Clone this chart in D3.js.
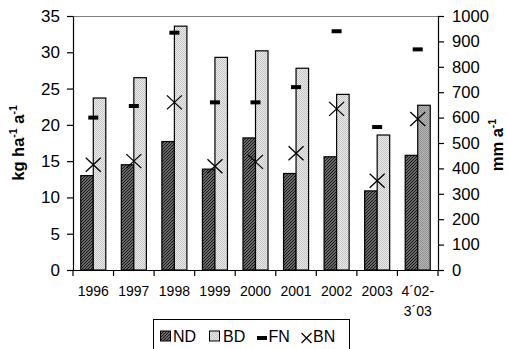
<!DOCTYPE html>
<html><head><meta charset="utf-8">
<script src="https://cdn.jsdelivr.net/npm/d3@7"></script>
<style>
html,body{margin:0;padding:0;background:#fff;}
svg{display:block;font-family:"Liberation Sans",Arial,sans-serif;}
</style></head>
<body>
<svg id="chart" width="508" height="349"></svg>
<script>
const categories = ["1996","1997","1998","1999","2000","2001","2002","2003","4´02-|3´03"];
const ND = [13.0,14.5,17.7,13.9,18.2,13.3,15.6,10.9,15.8];
const BD = [23.7,26.5,33.6,29.3,30.2,27.8,24.2,18.6,22.7];
const FN = [21.0,22.6,32.7,23.1,23.1,25.2,32.9,19.7,30.4];
const BN = [14.5,15.0,23.1,14.3,14.9,16.1,22.2,12.3,20.8];
const leftTicks = [0,5,10,15,20,25,30,35];
const rightTicks = [0,100,200,300,400,500,600,700,800,900,1000];

const svg = d3.select("#chart");
const L = 73, R = 438, T = 16, B = 270;

const defs = svg.append("defs");
// ND hatch
const pND = defs.append("pattern").attr("id","pND").attr("patternUnits","userSpaceOnUse")
  .attr("width",3).attr("height",3);
pND.append("rect").attr("width",3).attr("height",3).attr("fill","#8c8c8c");
pND.append("path").attr("d","M-1,1 L1,-1 M0,3 L3,0 M2,4 L4,2").attr("stroke","#111").attr("stroke-width",1.1);
// BD dots
const pBD = defs.append("pattern").attr("id","pBD").attr("patternUnits","userSpaceOnUse")
  .attr("width",2).attr("height",2);
pBD.append("rect").attr("width",2).attr("height",2).attr("fill","#ececec");
pBD.append("rect").attr("width",1).attr("height",1).attr("fill","#c4c4c4");
pBD.append("rect").attr("x",1).attr("y",1).attr("width",1).attr("height",1).attr("fill","#c4c4c4");
// darker BD for last
const pBD2 = defs.append("pattern").attr("id","pBD2").attr("patternUnits","userSpaceOnUse")
  .attr("width",2).attr("height",2);
pBD2.append("rect").attr("width",2).attr("height",2).attr("fill","#b4b4b4");
pBD2.append("rect").attr("width",1).attr("height",1).attr("fill","#949494");
pBD2.append("rect").attr("x",1).attr("y",1).attr("width",1).attr("height",1).attr("fill","#949494");

const x = d3.scaleBand().domain(categories).range([L,R]).padding(0);
const xs = d3.scaleBand().domain(["ND","BD"]).range([0,x.bandwidth()]).paddingInner(0).paddingOuter(0.62);
const y = d3.scaleLinear().domain([0,35]).range([B,T]);
const yR = d3.scaleLinear().domain([0,1000]).range([B,T]);

// top frame line
svg.append("line").attr("x1",L).attr("x2",R).attr("y1",T+0.5).attr("y2",T+0.5)
  .attr("stroke","#808080").attr("stroke-width",1);

// bars
const g = svg.append("g");
categories.forEach((c,i)=>{
  g.append("rect").attr("x",x(c)+xs("ND")).attr("y",y(ND[i]))
    .attr("width",xs.bandwidth()).attr("height",B-y(ND[i]))
    .attr("fill","url(#pND)").attr("stroke","#000").attr("stroke-width",1.2);
  g.append("rect").attr("x",x(c)+xs("BD")).attr("y",y(BD[i]))
    .attr("width",xs.bandwidth()).attr("height",B-y(BD[i]))
    .attr("fill", i===categories.length-1 ? "url(#pBD2)" : "url(#pBD)")
    .attr("stroke","#000").attr("stroke-width",1.2);
});

// FN markers
categories.forEach((c,i)=>{
  const cx = x(c)+x.bandwidth()/2;
  g.append("rect").attr("x",cx-5).attr("y",y(FN[i])-2).attr("width",10).attr("height",4).attr("fill","#000");
});
// BN markers
categories.forEach((c,i)=>{
  const cx = x(c)+x.bandwidth()/2, cy = y(BN[i]);
  g.append("path").attr("d",`M${cx-7.5},${cy-7} L${cx+7.5},${cy+7} M${cx-7.5},${cy+7} L${cx+7.5},${cy-7}`)
    .attr("stroke","#000").attr("stroke-width",1.3).attr("fill","none");
});

const fam = "Liberation Sans, Arial, sans-serif";
// left axis
const ax = svg.append("g").attr("transform",`translate(${L},0)`)
  .call(d3.axisLeft(y).tickValues(leftTicks).tickSize(6).tickSizeOuter(0).tickPadding(7).tickFormat(d3.format("d")));
ax.selectAll("text").attr("font-size",17).attr("fill","#000").attr("font-family",fam);
ax.selectAll("line,path").attr("stroke","#000").attr("stroke-width",1.2);

// right axis
const axR = svg.append("g").attr("transform",`translate(${R},0)`)
  .call(d3.axisRight(yR).tickValues(rightTicks).tickSize(6).tickSizeOuter(0).tickPadding(8).tickFormat(d3.format("d")));
axR.selectAll("text").attr("font-size",16.6).attr("fill","#000").attr("font-family",fam);
axR.selectAll("line,path").attr("stroke","#000").attr("stroke-width",1.2);

// bottom axis
const axB = svg.append("g").attr("transform",`translate(0,${B})`)
  .call(d3.axisBottom(x).tickSize(0).tickSizeOuter(0).tickPadding(16.5));
axB.select(".domain").attr("stroke","#000").attr("stroke-width",1.2);
axB.selectAll("text").attr("font-size",14).attr("fill","#000").attr("font-family",fam)
  .each(function(d){
    const parts = d.split("|");
    const t = d3.select(this); t.text(null);
    parts.forEach((p,k)=>{
      t.append("tspan").attr("x",0).attr("dy", k===0 ? "0.71em" : "1.43em").text(p);
    });
    t.attr("dy",null);
  });
// boundary ticks
const bounds = categories.map(c=>x(c)).concat([R]);
axB.selectAll(".btick").data(bounds).join("line").attr("class","btick")
  .attr("x1",d=>d).attr("x2",d=>d).attr("y1",0).attr("y2",6).attr("stroke","#000").attr("stroke-width",1.2);

// axis titles
const lt = svg.append("text").attr("transform",`translate(24,${(T+B)/2}) rotate(-90)`)
  .attr("text-anchor","middle").attr("font-size",16.5).attr("font-weight","bold");
lt.append("tspan").text("kg ha");
lt.append("tspan").attr("font-size",10.5).attr("dy",-7).text("-1");
lt.append("tspan").attr("dy",7).text(" a");
lt.append("tspan").attr("font-size",10.5).attr("dy",-7).text("-1");

const rt = svg.append("text").attr("transform",`translate(503,${(T+B)/2+2}) rotate(-90)`)
  .attr("text-anchor","middle").attr("font-size",16.5).attr("font-weight","bold");
rt.append("tspan").text("mm a");
rt.append("tspan").attr("font-size",10.5).attr("dy",-7).text("-1");

// legend
const lg = svg.append("g");
lg.append("rect").attr("x",153.5).attr("y",319.5).attr("width",196).attr("height",40)
  .attr("fill","#fff").attr("stroke","#000").attr("stroke-width",1);
const ly = 336;
lg.append("rect").attr("x",160.5).attr("y",ly-5).attr("width",10).attr("height",10)
  .attr("fill","url(#pND)").attr("stroke","#000").attr("stroke-width",1);
lg.append("text").attr("x",173).attr("y",ly+6).attr("font-size",16).text("ND");
lg.append("rect").attr("x",209.5).attr("y",ly-5).attr("width",10).attr("height",10)
  .attr("fill","url(#pBD)").attr("stroke","#000").attr("stroke-width",1);
lg.append("text").attr("x",223).attr("y",ly+6).attr("font-size",16).text("BD");
lg.append("rect").attr("x",257).attr("y",ly).attr("width",10).attr("height",4).attr("fill","#000");
lg.append("text").attr("x",268.5).attr("y",ly+6).attr("font-size",16).text("FN");
lg.append("path").attr("d",`M301.5,${ly-3} L311.5,${ly+7} M301.5,${ly+7} L311.5,${ly-3}`)
  .attr("stroke","#000").attr("stroke-width",1.2);
lg.append("text").attr("x",313).attr("y",ly+6).attr("font-size",16).text("BN");
</script>
</body></html>
